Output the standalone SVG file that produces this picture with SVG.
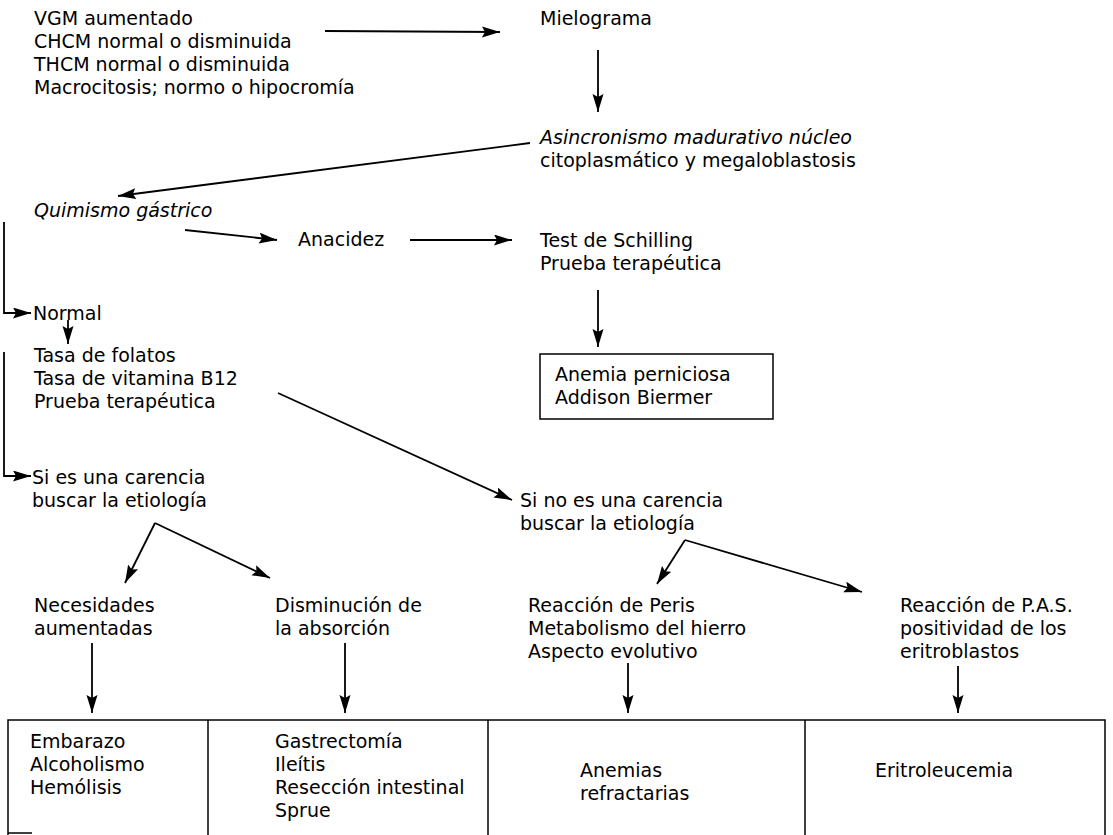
<svg xmlns="http://www.w3.org/2000/svg" width="1113" height="835" viewBox="0 0 1113 835">
<style>
text{font-family:"DejaVu Sans","Liberation Sans",sans-serif;font-size:19px;fill:#000}
.it{font-style:italic}
.ln{stroke:#000;stroke-width:1.8;fill:none}
.bx{stroke:#000;stroke-width:1.5;fill:none}
</style>
<defs>
<marker id="ah" markerUnits="userSpaceOnUse" markerWidth="20" markerHeight="12" refX="18" refY="5.5" orient="auto">
<path d="M0,0 L18,5.5 L0,11 L3,5.5 Z" fill="#000"/>
</marker>
</defs>
<rect width="1113" height="835" fill="#fff"/>
<g id="connectors">
<line class="ln" x1="325" y1="31" x2="500" y2="32" marker-end="url(#ah)"/>
<line class="ln" x1="598" y1="50" x2="598" y2="112" marker-end="url(#ah)"/>
<line class="ln" x1="530" y1="143" x2="118" y2="196" marker-end="url(#ah)"/>
<line class="ln" x1="185" y1="230" x2="277" y2="240" marker-end="url(#ah)"/>
<line class="ln" x1="410" y1="240" x2="512" y2="240" marker-end="url(#ah)"/>
<line class="ln" x1="598" y1="290" x2="598" y2="347" marker-end="url(#ah)"/>
<polyline class="ln" points="4,222 4,313 31,313" marker-end="url(#ah)"/>
<line class="ln" x1="68" y1="320" x2="68" y2="344" marker-end="url(#ah)"/>
<polyline class="ln" points="4,352 4,476 31,476" marker-end="url(#ah)"/>
<line class="ln" x1="278" y1="393" x2="512" y2="500" marker-end="url(#ah)"/>
<line class="ln" x1="155" y1="523" x2="125" y2="583" marker-end="url(#ah)"/>
<line class="ln" x1="155" y1="523" x2="270" y2="578" marker-end="url(#ah)"/>
<line class="ln" x1="685" y1="540" x2="657" y2="584" marker-end="url(#ah)"/>
<line class="ln" x1="685" y1="540" x2="862" y2="592" marker-end="url(#ah)"/>
<line class="ln" x1="92" y1="643" x2="92" y2="713" marker-end="url(#ah)"/>
<line class="ln" x1="345" y1="643" x2="345" y2="713" marker-end="url(#ah)"/>
<line class="ln" x1="628" y1="663" x2="628" y2="713" marker-end="url(#ah)"/>
<line class="ln" x1="958" y1="666" x2="958" y2="713" marker-end="url(#ah)"/>
</g>
<g id="n-datos">
<text x="34" y="25">VGM aumentado</text>
<text x="34" y="48">CHCM normal o disminuida</text>
<text x="34" y="71">THCM normal o disminuida</text>
<text x="34" y="94">Macrocitosis; normo o hipocromía</text>
</g>
<g id="n-mielograma"><text x="540" y="25">Mielograma</text></g>
<g id="n-asincronismo">
<text class="it" x="540" y="144">Asincronismo madurativo núcleo</text>
<text x="540" y="167">citoplasmático y megaloblastosis</text>
</g>
<g id="n-quimismo"><text class="it" x="34" y="217">Quimismo gástrico</text></g>
<g id="n-anacidez"><text x="298" y="246">Anacidez</text></g>
<g id="n-schilling">
<text x="540" y="247">Test de Schilling</text>
<text x="540" y="270">Prueba terapéutica</text>
</g>
<g id="n-perniciosa">
<rect class="bx" x="540" y="354" width="233" height="65"/>
<text x="555" y="381">Anemia perniciosa</text>
<text x="555" y="404">Addison Biermer</text>
</g>
<g id="n-normal"><text x="33" y="320">Normal</text></g>
<g id="n-tasa">
<text x="34" y="362">Tasa de folatos</text>
<text x="34" y="385">Tasa de vitamina B12</text>
<text x="34" y="408">Prueba terapéutica</text>
</g>
<g id="n-si">
<text x="32" y="484">Si es una carencia</text>
<text x="32" y="507">buscar la etiología</text>
</g>
<g id="n-sino">
<text x="520" y="507">Si no es una carencia</text>
<text x="520" y="530">buscar la etiología</text>
</g>
<g id="n-necesidades">
<text x="34" y="612">Necesidades</text>
<text x="34" y="635">aumentadas</text>
</g>
<g id="n-disminucion">
<text x="275" y="612">Disminución de</text>
<text x="275" y="635">la absorción</text>
</g>
<g id="n-peris">
<text x="528" y="612">Reacción de Peris</text>
<text x="528" y="635">Metabolismo del hierro</text>
<text x="528" y="658">Aspecto evolutivo</text>
</g>
<g id="n-pas">
<text x="900" y="612">Reacción de P.A.S.</text>
<text x="900" y="635">positividad de los</text>
<text x="900" y="658">eritroblastos</text>
</g>
<g id="n-tabla">
<polyline class="bx" points="8,835 8,720 1105,720 1105,835"/>
<line class="bx" x1="8" y1="833" x2="32" y2="833"/>
<line class="bx" x1="208" y1="720" x2="208" y2="835"/>
<line class="bx" x1="488" y1="720" x2="488" y2="835"/>
<line class="bx" x1="805" y1="720" x2="805" y2="835"/>
</g>
<g id="n-col1">
<text x="30" y="748">Embarazo</text>
<text x="30" y="771">Alcoholismo</text>
<text x="30" y="794">Hemólisis</text>
</g>
<g id="n-col2">
<text x="275" y="748">Gastrectomía</text>
<text x="275" y="771">Ileítis</text>
<text x="275" y="794">Resección intestinal</text>
<text x="275" y="817">Sprue</text>
</g>
<g id="n-col3">
<text x="580" y="777">Anemias</text>
<text x="580" y="800">refractarias</text>
</g>
<g id="n-col4">
<text x="875" y="777">Eritroleucemia</text>
</g>
</svg>
